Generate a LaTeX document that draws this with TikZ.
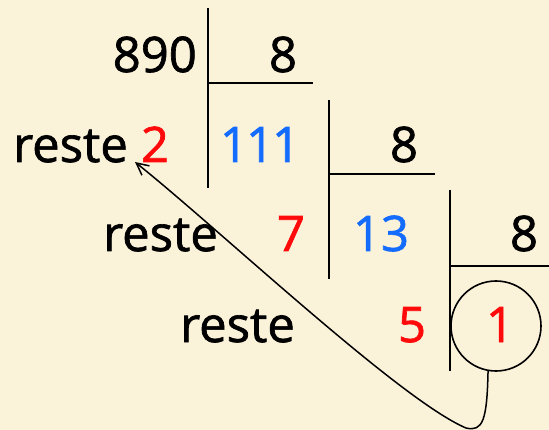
\documentclass[tikz,border=0pt]{standalone}
\usepackage{fontspec}
\setmainfont[FakeBold=1.4]{Open Sans}
\usetikzlibrary{arrows.meta}
\definecolor{bg}{RGB}{251,242,218}
\definecolor{rred}{RGB}{255,10,10}
\definecolor{qblue}{RGB}{20,108,255}
\begin{document}
\begin{tikzpicture}[x=1pt,y=-1pt,
  txt/.style={inner sep=0pt,font=\fontsize{49}{58}\selectfont},
  rem/.style={txt,text=rred},
  quo/.style={txt,text=qblue},
  bar/.style={line width=2.2pt},
  conn/.style={line width=1.5pt,-{Straight Barb[length=12pt,width=12pt,line width=1.5pt]}}]
\fill[bg] (0,0) rectangle (549,430);
\useasboundingbox (0,0) rectangle (549,430);
% bars
\draw[bar] (208,8) coordinate (v1t) -- (208,188) coordinate (v1b);
\draw[bar] (208,83) coordinate (h1l) -- (313,83) coordinate (h1r);
\draw[bar] (329,100) coordinate (v2t) -- (329,279) coordinate (v2b);
\draw[bar] (329,174) coordinate (h2l) -- (435,174) coordinate (h2r);
\draw[bar] (450,190) coordinate (v3t) -- (450,371) coordinate (v3b);
\draw[bar] (450,266) coordinate (h3l) -- (549,266) coordinate (h3r);
% row 1
\node[txt,anchor=base east] (n890) at (197,72) {890};
\node[txt,anchor=base] (d1) at (283,72) {8};
\node[txt,anchor=base west] (r1) at (13,162) {reste};
\node[rem,anchor=base] (m1) at (155,162) {2};
\node[quo,anchor=base] (q1) at (260,162) {1\kern-2pt1\kern-2pt1};
\node[txt,anchor=base] (d2) at (404,162) {8};
% row 2
\node[txt,anchor=base west] (r2) at (103,251) {reste};
\node[rem,anchor=base] (m2) at (291,251) {7};
\node[quo,anchor=base] (q2) at (381,251) {13};
\node[txt,anchor=base] (d3) at (524,251) {8};
% row 3
\node[txt,anchor=base west] (r3) at (180,342) {reste};
\node[rem,anchor=base] (m3) at (412,342) {5};
\node[draw,circle,line width=1.6pt,minimum size=90pt,inner sep=0pt] (c) at (496,326) {};
\node[rem,anchor=base] (q3) at (500,342) {1};
% arrow
\coordinate (tip) at (135,162);
\draw[conn] (c.260) .. controls (487,420) and (483,432) .. (466,428)
  .. controls (400,400) and (220,230) .. (tip);
\end{tikzpicture}
\end{document}
